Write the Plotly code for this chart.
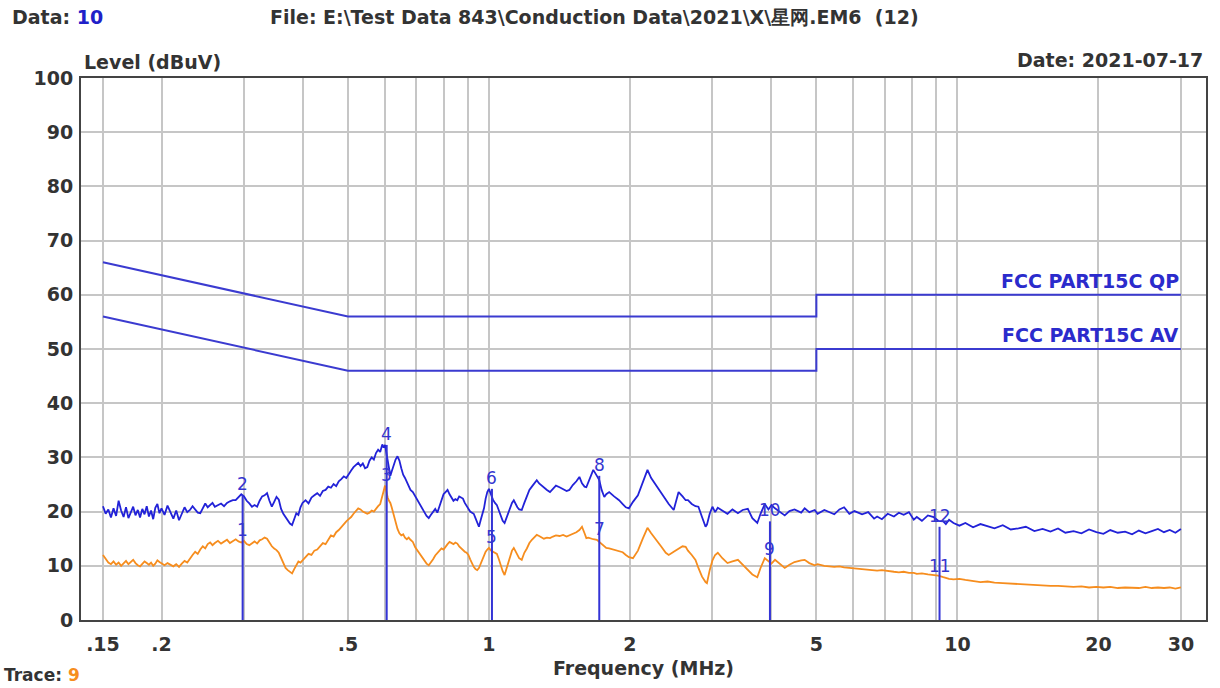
import math
import plotly.graph_objects as go

# ---------------- data ----------------
freq_mhz = [
    0.150, 0.152, 0.154, 0.156, 0.158, 0.160, 0.162, 0.164, 0.166, 0.168,
    0.170, 0.172, 0.174, 0.176, 0.178, 0.180, 0.182, 0.184, 0.186, 0.188,
    0.190, 0.192, 0.194, 0.196, 0.198, 0.200, 0.203, 0.206, 0.209, 0.212,
    0.215, 0.218, 0.221, 0.224, 0.227, 0.230, 0.233, 0.236, 0.239, 0.242,
    0.245, 0.248, 0.251, 0.254, 0.257, 0.260, 0.264, 0.268, 0.272, 0.276,
    0.280, 0.284, 0.288, 0.292, 0.296, 0.300, 0.304, 0.308, 0.312, 0.316,
    0.320, 0.324, 0.328, 0.332, 0.336, 0.340, 0.344, 0.348, 0.352, 0.356,
    0.360, 0.364, 0.368, 0.372, 0.376, 0.380, 0.384, 0.388, 0.392, 0.396,
    0.400, 0.406, 0.412, 0.418, 0.424, 0.430, 0.436, 0.442, 0.448, 0.454,
    0.460, 0.466, 0.472, 0.478, 0.484, 0.490, 0.496, 0.502, 0.508, 0.514,
    0.520, 0.526, 0.532, 0.538, 0.544, 0.550, 0.556, 0.562, 0.568, 0.574,
    0.580, 0.586, 0.592, 0.596, 0.600, 0.604, 0.608, 0.612, 0.616, 0.620,
    0.626, 0.632, 0.638, 0.644, 0.650, 0.656, 0.662, 0.668, 0.674, 0.680,
    0.688, 0.696, 0.704, 0.712, 0.720, 0.728, 0.736, 0.744, 0.752, 0.760,
    0.768, 0.776, 0.784, 0.792, 0.800, 0.808, 0.816, 0.824, 0.832, 0.840,
    0.848, 0.856, 0.864, 0.872, 0.880, 0.888, 0.896, 0.904, 0.912, 0.920,
    0.928, 0.936, 0.944, 0.952, 0.960, 0.968, 0.976, 0.984, 0.992, 1.000,
    1.010, 1.020, 1.030, 1.040, 1.050, 1.060, 1.070, 1.080, 1.090, 1.100,
    1.110, 1.120, 1.130, 1.140, 1.150, 1.160, 1.175, 1.190, 1.205, 1.220,
    1.235, 1.250, 1.265, 1.280, 1.295, 1.310, 1.330, 1.350, 1.370, 1.390,
    1.415, 1.440, 1.465, 1.485, 1.510, 1.537, 1.560, 1.580, 1.600, 1.614,
    1.630, 1.650, 1.670, 1.700, 1.720, 1.740, 1.763, 1.780, 1.806, 1.850,
    1.896, 1.930, 1.960, 1.990, 2.030, 2.080, 2.130, 2.180, 2.220, 2.270,
    2.330, 2.385, 2.420, 2.480, 2.540, 2.590, 2.630, 2.660, 2.710, 2.760,
    2.800, 2.850, 2.900, 2.920, 2.960, 3.000, 3.040, 3.080, 3.150, 3.230,
    3.310, 3.400, 3.480, 3.570, 3.650, 3.740, 3.800, 3.880, 3.950, 4.010,
    4.080, 4.180, 4.280, 4.380, 4.490, 4.640, 4.720, 4.830, 4.960, 5.030,
    5.200, 5.460, 5.600, 5.730, 5.880, 6.030, 6.260, 6.450, 6.640, 6.740,
    6.900, 7.100, 7.320, 7.500, 7.680, 7.880, 8.070, 8.190, 8.400, 8.650,
    8.900, 9.100, 9.330, 9.450, 9.600, 9.810, 10.10, 10.40, 10.80, 11.20,
    11.60, 12.00, 12.50, 13.00, 13.50, 14.00, 14.60, 15.20, 15.80, 16.40,
    17.00, 17.70, 18.40, 19.10, 19.80, 20.50, 21.20, 22.00, 22.80, 23.60,
    24.40, 25.20, 26.00, 26.80, 27.60, 28.40, 29.20, 30.00,
]

qp_level = [
    21.0, 19.6, 20.4, 18.9, 20.6, 19.2, 22.0, 20.2, 19.0, 20.8,
    18.8, 19.9, 20.9, 19.3, 20.3, 18.9, 20.5, 19.5, 21.0, 19.1,
    20.2, 18.6, 20.7, 21.4, 19.7, 20.6, 19.4, 21.1, 19.8, 18.7,
    20.2, 18.4, 19.6, 20.8, 19.9, 20.3, 21.0, 20.4, 19.8, 19.7,
    20.6, 21.5, 20.8, 21.2, 21.6, 20.9, 21.2, 21.5, 21.0, 21.6,
    21.9, 22.1, 22.1, 22.6, 23.2, 22.8, 22.0, 21.5, 20.9, 21.2,
    20.9, 22.0, 22.8, 23.0, 23.4, 22.0, 20.9, 21.8, 22.7, 22.2,
    20.5, 19.6, 19.0, 18.3, 17.8, 17.5, 18.6, 19.7, 19.4, 20.8,
    21.6, 22.1, 21.5, 22.6, 23.0, 23.4, 22.9, 23.8, 24.0, 24.6,
    24.4, 25.1, 24.7, 25.6, 26.0, 26.5, 26.2, 27.0, 27.6, 28.2,
    28.6, 29.0, 28.4, 28.9, 28.0, 28.2, 29.4, 30.0, 29.6, 30.8,
    31.4, 31.0, 32.4, 31.8, 32.3, 30.8, 29.2, 27.8, 26.6, 27.4,
    28.6, 29.6, 30.2, 29.4, 28.0, 26.8, 26.2, 25.4, 24.6, 24.0,
    23.6, 22.8, 22.1, 21.2, 20.6, 19.9, 19.2, 18.8, 19.4, 20.0,
    20.5, 19.8, 21.0, 22.4, 23.2, 23.6, 24.0, 23.2, 22.6, 22.0,
    22.3, 22.1, 22.8, 22.6, 22.4, 21.6, 21.0, 20.6, 20.0, 19.8,
    19.6, 18.8, 18.0, 17.2, 18.4, 19.6, 20.6, 22.4, 23.6, 24.2,
    23.0, 22.2, 21.6, 21.2, 20.2, 19.2, 18.3, 17.9, 18.8, 19.8,
    20.8, 21.6, 22.1, 21.4, 20.8, 20.4, 20.3, 21.6, 22.8, 24.0,
    24.6, 25.2, 25.8, 25.2, 24.8, 24.4, 24.0, 23.6, 24.2, 24.8,
    24.5, 24.2, 23.8, 24.0, 24.9, 25.6, 26.4, 25.2, 24.6, 24.5,
    25.4, 26.8, 27.7, 26.6, 25.8, 24.0, 22.7, 23.2, 23.6, 22.8,
    22.1, 21.4, 20.8, 20.6, 21.8, 23.0, 25.4, 27.7, 26.2, 24.9,
    23.4, 22.1, 21.4, 20.3, 23.6, 22.8, 22.1, 22.1, 21.4, 21.0,
    20.9, 19.0, 17.2, 17.6, 19.6, 20.9, 19.9, 20.7, 20.1, 19.6,
    20.4, 19.7, 20.3, 20.5, 18.8, 17.9, 19.6, 21.4, 20.4, 21.2,
    20.6, 20.0, 19.3, 20.1, 20.4, 19.8, 20.6, 19.9, 20.3, 19.6,
    20.3, 19.5, 20.4, 20.8, 19.6, 20.1, 19.5, 19.9, 18.7, 19.1,
    18.6, 19.6, 19.1, 19.8, 19.4, 19.9, 18.5, 19.0, 18.3, 19.3,
    19.0, 18.3, 18.2, 17.7, 18.5, 17.9, 17.4, 17.9, 17.1, 17.7,
    17.3, 16.9, 17.5, 16.7, 16.9, 17.2, 16.4, 16.8, 16.3, 16.9,
    16.1, 16.4, 16.0, 16.7, 16.2, 15.9, 16.6, 16.1, 16.3, 15.8,
    16.5, 16.0, 16.4, 16.8, 16.2, 16.6, 16.1, 16.8,
]

av_level = [
    12.0, 11.2, 10.6, 10.3, 10.8, 10.2, 10.6, 10.0, 10.4, 10.9,
    10.3, 10.7, 11.1, 10.5, 10.1, 9.9, 10.4, 10.8, 10.5, 10.2,
    10.6, 10.0, 10.4, 11.0, 10.7, 10.4, 10.1, 10.5, 10.2, 9.9,
    10.3, 9.8, 10.4, 10.9, 10.6, 11.4, 12.0, 12.6, 12.2, 13.0,
    13.6, 13.2, 14.0, 14.3, 13.8, 14.2, 14.6, 14.1, 14.4, 14.8,
    14.2, 14.6, 14.9, 14.5, 14.3, 14.6, 14.0, 13.8, 14.2, 14.5,
    14.1, 14.7, 14.9, 15.2, 15.0, 14.2, 13.6, 13.2, 12.9, 12.4,
    11.5, 10.6, 9.6, 9.2, 8.8, 8.6, 9.4, 10.2, 10.8, 10.6,
    11.0, 11.6, 12.2, 12.0, 12.8, 13.0, 13.6, 14.2, 14.0, 14.8,
    15.6, 15.4, 16.2, 16.6, 17.2, 17.8, 18.2, 18.6, 19.0, 19.6,
    20.2, 20.6, 20.4, 20.0, 19.8, 19.6, 19.8, 20.2, 20.0, 20.6,
    21.0, 21.4, 22.6, 23.8, 24.8, 23.4, 22.6, 22.0, 21.6, 20.8,
    19.4, 18.0, 16.8, 16.0, 15.6, 15.8, 15.2, 14.9, 15.2, 14.8,
    14.4, 13.4, 12.8, 12.2, 11.6, 11.0, 10.4, 10.1, 10.6, 11.2,
    11.9, 12.4, 12.8, 13.2, 13.0, 13.6, 14.0, 14.4, 14.2, 14.0,
    14.3, 14.1, 13.6, 13.2, 12.8, 12.6, 12.4, 12.0, 11.2, 10.4,
    9.8, 9.4, 9.2, 9.6, 10.4, 11.2, 11.8, 12.6, 13.0, 13.3,
    12.8, 12.6, 12.4, 12.2, 11.2, 10.0, 9.0, 8.3, 9.4, 10.6,
    11.8, 12.8, 13.3, 12.6, 12.0, 11.4, 11.1, 12.4, 13.2, 14.2,
    14.8, 15.3, 15.7, 15.5, 15.2, 15.0, 15.2, 15.1, 15.4, 15.6,
    15.5, 15.7, 15.4, 15.6, 15.9, 16.2, 16.6, 17.2, 16.0, 15.1,
    15.2, 15.0, 14.9, 14.8, 14.4, 14.0, 13.6, 13.3, 13.2, 12.9,
    12.6, 12.5, 12.0, 11.6, 11.4, 12.8, 15.0, 17.0, 16.0, 14.8,
    13.6, 12.4, 12.0, 12.6, 13.2, 13.6, 13.5, 12.8, 12.0, 11.1,
    9.6, 8.0, 7.0, 6.8, 9.2, 11.0, 12.0, 12.4, 11.4, 10.5,
    10.8, 11.1, 10.2, 9.2, 8.4, 7.9, 9.6, 11.4, 10.8, 10.4,
    11.1, 10.4, 9.6, 10.2, 10.7, 11.0, 11.1, 10.5, 10.1, 10.3,
    10.0, 9.8, 9.9, 9.7, 9.6, 9.6, 9.4, 9.3, 9.2, 9.1,
    9.2, 9.0, 8.9, 8.8, 8.9, 8.7, 8.7, 8.5, 8.6, 8.4,
    8.3, 8.2, 7.9, 7.7, 7.6, 7.5, 7.6, 7.4, 7.2, 7.0,
    7.1, 6.9, 6.8, 6.7, 6.6, 6.6, 6.5, 6.4, 6.3, 6.3,
    6.2, 6.1, 6.2, 6.0, 6.1, 6.0, 6.1, 5.9, 6.0, 6.0,
    5.9, 6.1, 5.9, 6.0, 5.9, 6.0, 5.8, 6.0,
]

limit_freq = [0.15, 0.5, 5.0, 5.0, 30.0]
qp_limit = [66, 56, 56, 60, 60]
av_limit = [56, 46, 46, 50, 50]
limit_names = ["FCC PART15C QP", "FCC PART15C AV"]

marker_no = [1, 2, 3, 4, 5, 6, 7, 8, 9, 10, 11, 12]
marker_freq = [0.298, 0.298, 0.605, 0.605, 1.015, 1.015, 1.72, 1.72, 3.98, 3.98, 9.16, 9.16]
marker_level = [14.6, 23.0, 24.8, 32.3, 13.3, 24.2, 14.8, 26.6, 11.0, 18.2, 8.0, 17.2]

x_grid = [0.15, 0.2, 0.3, 0.4, 0.5, 0.6, 0.7, 0.8, 0.9, 1, 2, 3, 4, 5, 6, 7, 8, 9, 10, 20, 30]
x_labels = {0.15: ".15", 0.2: ".2", 0.5: ".5", 1: "1", 2: "2", 5: "5", 10: "10", 20: "20", 30: "30"}
y_ticks = [0, 10, 20, 30, 40, 50, 60, 70, 80, 90, 100]

# ---------------- style ----------------
FONT = "DejaVu Sans"
TXT = "#333333"
BLUE = "#2222d8"
LIMIT = "#3b3bd0"
ORANGE = "#f68d1e"
W, H = 1220, 688
ML, MR, MT, MB = 81, 12, 78, 68
PW, PH = W - ML - MR, H - MT - MB


def px(x):
    return (x - ML) / PW


def py(y):
    return (H - MB - y) / PH


fig = go.Figure()

fig.add_trace(go.Scatter(x=limit_freq, y=qp_limit, mode="lines",
                         line=dict(color=LIMIT, width=2), hoverinfo="skip"))
fig.add_trace(go.Scatter(x=limit_freq, y=av_limit, mode="lines",
                         line=dict(color=LIMIT, width=2), hoverinfo="skip"))

fig.add_trace(go.Scatter(x=freq_mhz, y=av_level, mode="lines",
                         line=dict(color=ORANGE, width=1.8)))
fig.add_trace(go.Scatter(x=freq_mhz, y=qp_level, mode="lines",
                         line=dict(color=BLUE, width=1.8)))

# marker stems: one per frequency, up to the higher marker of the pair
vx, vy = [], []
seen = {}
for f, lv in zip(marker_freq, marker_level):
    seen[f] = max(seen.get(f, 0), lv)
for f, top in seen.items():
    vx += [f, f, None]
    vy += [0, top, None]
fig.add_trace(go.Scatter(x=vx, y=vy, mode="lines",
                         line=dict(color="#3434d6", width=2), hoverinfo="skip"))

annotations = []
for n, f, lv in zip(marker_no, marker_freq, marker_level):
    annotations.append(dict(
        x=math.log10(f), y=lv, xref="x", yref="y", text=str(n), showarrow=False,
        yshift=11, font=dict(family=FONT, size=17, color="#3535d0")))

for name, lim in zip(limit_names, [qp_limit, av_limit]):
    annotations.append(dict(
        x=math.log10(limit_freq[-1]), y=lim[-1], xref="x", yref="y", text=name,
        showarrow=False, xanchor="right", yanchor="bottom", yshift=1,
        font=dict(family=FONT, size=19, color="#2b2bcc", weight="bold")))

hdr = dict(family=FONT, size=19, color=TXT, weight="bold")
annotations += [
    dict(x=px(10), y=py(17), xref="paper", yref="paper", xanchor="left", yanchor="middle",
         text='Data: <span style="color:#2020c8">10</span>', showarrow=False, font=hdr),
    dict(x=px(595), y=py(17), xref="paper", yref="paper", xanchor="center", yanchor="middle",
         text="File: E:\\Test Data 843\\Conduction Data\\2021\\X\\星网.EM6  (12)",
         showarrow=False, font=hdr),
    dict(x=px(82), y=py(62), xref="paper", yref="paper", xanchor="left", yanchor="middle",
         text="Level (dBuV)", showarrow=False, font=hdr),
    dict(x=px(1207), y=py(60), xref="paper", yref="paper", xanchor="right", yanchor="middle",
         text="Date: 2021-07-17", showarrow=False, font=hdr),
    dict(x=px(645), y=py(668), xref="paper", yref="paper", xanchor="center", yanchor="middle",
         text="Frequency (MHz)", showarrow=False, font=hdr),
    dict(x=px(2), y=py(687), xref="paper", yref="paper", xanchor="left", yanchor="bottom",
         text='Trace: <span style="color:#f68d1e">9</span>', showarrow=False,
         font=dict(family=FONT, size=17, color=TXT, weight="bold")),
]

fig.update_layout(
    width=W, height=H, margin=dict(l=ML, r=MR, t=MT, b=MB),
    paper_bgcolor="white", plot_bgcolor="white", showlegend=False,
    annotations=annotations,
    xaxis=dict(
        type="log", range=[-0.8708, 1.5307],
        tickmode="array", tickvals=x_grid,
        ticktext=[x_labels.get(v, "") for v in x_grid],
        showgrid=True, gridcolor="#c6c6c6", gridwidth=1.5,
        showline=True, linecolor="#444444", linewidth=2, mirror=True,
        ticks="", zeroline=False, ticklabelstandoff=6,
        tickfont=dict(family=FONT, size=19, color=TXT, weight="bold"),
    ),
    yaxis=dict(
        range=[0, 100], tickmode="array", tickvals=y_ticks,
        showgrid=True, gridcolor="#c6c6c6", gridwidth=1.5,
        showline=True, linecolor="#444444", linewidth=2, mirror=True,
        ticks="", zeroline=False, ticklabelstandoff=2,
        tickfont=dict(family=FONT, size=19, color=TXT, weight="bold"),
    ),
)

fig.write_html("out.html")
